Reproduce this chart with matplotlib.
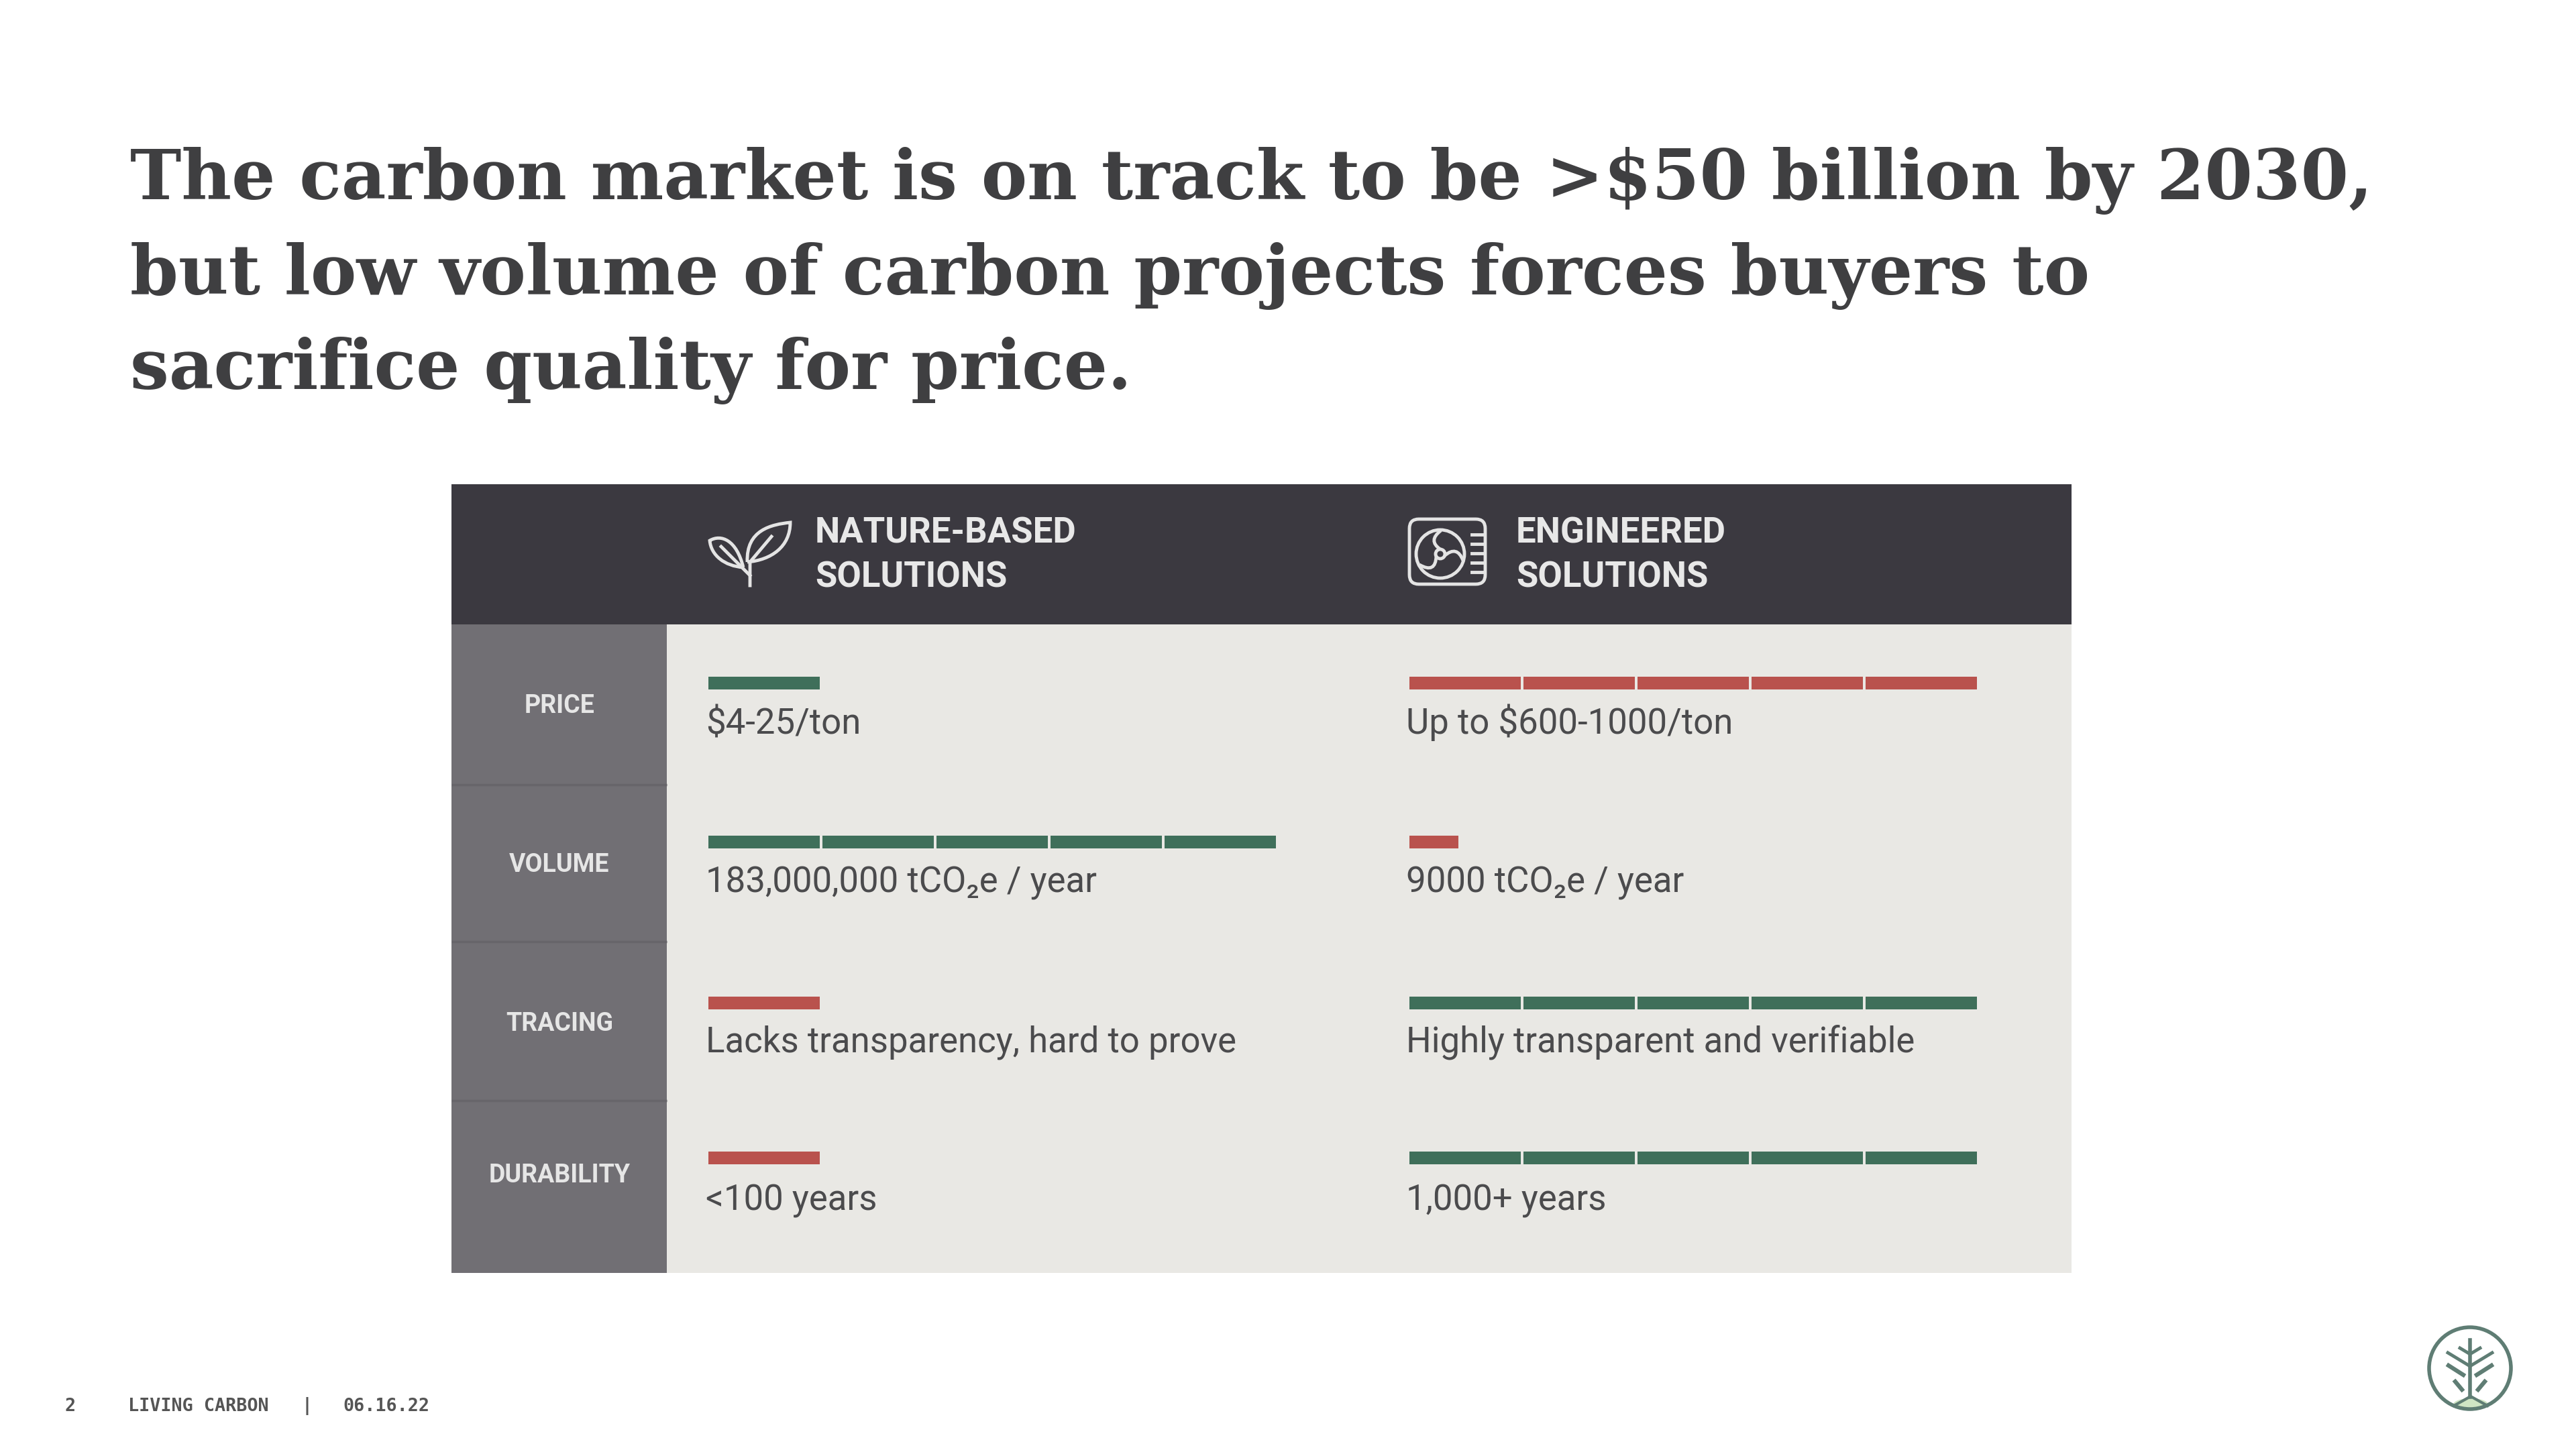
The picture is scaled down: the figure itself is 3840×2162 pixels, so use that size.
import matplotlib
matplotlib.use("Agg")
import matplotlib.pyplot as plt
from matplotlib.patches import Rectangle, Circle, FancyBboxPatch, PathPatch, Ellipse
from matplotlib.path import Path

# DATA

TITLE_LINES = [
    "The carbon market is on track to be >$50 billion by 2030,",
    "but low volume of carbon projects forces buyers to",
    "sacrifice quality for price.",
]
row_labels = ["PRICE", "VOLUME", "TRACING", "DURABILITY"]
nature_scores = [1, 5, 1, 1]
engineered_scores = [5, 0.43, 5, 5]
nature_good = [True, True, False, False]
engineered_good = [False, False, True, True]
nature_text = ["$4-25/ton", "183,000,000 tCO₂e / year", "Lacks transparency, hard to prove", "<100 years"]
engineered_text = ["Up to $600-1000/ton", "9000 tCO₂e / year", "Highly transparent and verifiable", "1,000+ years"]

# LAYOUT (pixels)

DARK = "#3b3940"
SIDE = "#716f74"
BODY = "#e9e8e4"
GREEN = "#3f6f5a"
RED = "#b9524d"
TEXT = "#4b4b4d"
ICON = "#e4e4e4"

row_tops = [931, 1170, 1404, 1641, 1898]
label_base = [1063, 1300, 1537, 1763]
bar_y = [1018, 1255, 1495, 1726]
text_base = [1094, 1330, 1568, 1805]
SEG_PITCH = 170
SEG_GAP = 4

fig = plt.figure(figsize=(38.4, 21.62), dpi=100, facecolor="white")
ax = fig.add_axes([0, 0, 1, 1])
ax.set_xlim(0, 3840)
ax.set_ylim(2162, 0)
ax.axis("off")

for i, line in enumerate(TITLE_LINES):
    ax.text(194, 297 + i * 141.5, line, family="DejaVu Serif", weight="bold",
            fontsize=74, color="#3f3f41", va="baseline", ha="left")

# table background
ax.add_patch(Rectangle((673, 722), 2415, 209, fc=DARK, ec="none"))
ax.add_patch(Rectangle((673, 931), 321, 967, fc=SIDE, ec="none"))
ax.add_patch(Rectangle((994, 931), 2094, 967, fc=BODY, ec="none"))
for y in row_tops[1:-1]:
    ax.plot([673, 994], [y, y], color="#67656a", lw=2.5, solid_capstyle="butt")

for x, top, bottom in [(1215, "NATURE-BASED", "SOLUTIONS"), (2260, "ENGINEERED", "SOLUTIONS")]:
    ax.text(x, 810, top, family="Roboto", weight="bold", fontsize=38, color="#e8e8e8", va="baseline")
    ax.text(x, 875, bottom, family="Roboto", weight="bold", fontsize=38, color="#e8e8e8", va="baseline")


def draw_score(x0, y, score, good):
    color = GREEN if good else RED
    n_full = int(score)
    for k in range(n_full):
        ax.barh(y, SEG_PITCH - SEG_GAP, left=x0 + k * SEG_PITCH, height=19, color=color)
    if score > n_full:
        ax.barh(y, (score - n_full) * SEG_PITCH, left=x0 + n_full * SEG_PITCH, height=19, color=color)


for i, label in enumerate(row_labels):
    ax.text(834, label_base[i], label, family="Roboto", weight="bold", fontsize=27,
            color="#e6e6e6", ha="center", va="baseline")
    draw_score(1056, bar_y[i], nature_scores[i], nature_good[i])
    draw_score(2101, bar_y[i], engineered_scores[i], engineered_good[i])
    ax.text(1052, text_base[i], nature_text[i], family="Roboto", fontsize=38, color=TEXT, va="baseline")
    ax.text(2096, text_base[i], engineered_text[i], family="Roboto", fontsize=38, color=TEXT, va="baseline")

# footer
for x, s in [(96, "2"), (191, "LIVING CARBON"), (449, "|"), (511, "06.16.22")]:
    ax.text(x, 2097, s, family="DejaVu Sans Mono", weight="bold", fontsize=19.3, color="#555555", va="center")

# leaf icon
LW = 3.5
ax.add_patch(PathPatch(Path([(1114, 838), (1112, 790), (1150, 782), (1178, 779),
                             (1178, 815), (1150, 835), (1114, 838)],
                            [1, 4, 4, 4, 4, 4, 4]), fc="none", ec=ICON, lw=LW))
ax.add_patch(PathPatch(Path([(1108, 846), (1098, 805), (1075, 796), (1058, 806),
                             (1060, 828), (1080, 844), (1108, 846)],
                            [1, 4, 4, 4, 4, 4, 4]), fc="none", ec=ICON, lw=LW))
ax.plot([1118, 1118, 1150], [873, 838, 800], color=ICON, lw=LW)
ax.plot([1118, 1075], [858, 815], color=ICON, lw=LW)

# fan icon
ax.add_patch(FancyBboxPatch((2101, 774), 113, 97, boxstyle="round,pad=0,rounding_size=14",
                            fc=DARK, ec=ICON, lw=LW, mutation_scale=1))
ax.add_patch(Circle((2147, 826), 36, fc="none", ec=ICON, lw=LW))
ax.add_patch(Circle((2147, 826), 7, fc="none", ec=ICON, lw=LW))
for start, ctrl, end in [((2147, 819), (2128, 806), (2148, 791)),
                         ((2153, 829), (2172, 812), (2181, 836)),
                         ((2141, 829), (2140, 856), (2116, 842))]:
    ax.add_patch(PathPatch(Path([start, ctrl, end], [1, 3, 3]), fc="none", ec=ICON, lw=LW))
for y in [797, 811, 825, 839, 853]:
    ax.plot([2194, 2212], [y, y], color=ICON, lw=LW)

# logo
LOGO = "#5f7d74"
ax.add_patch(Ellipse((3683, 2094), 52, 18, fc="#cfe5c4", ec="none"))
ax.add_patch(Circle((3682, 2040), 61, fc="none", ec=LOGO, lw=4))
ax.plot([3682, 3682], [1998, 2083], color=LOGO, lw=4)
for dx, y0, y1 in [(33, 2037, 2017), (15, 2019, 2010)]:
    ax.plot([3682 - dx, 3682, 3682 + dx], [y1, y0, y1], color=LOGO, lw=3.5)
for xa, ya, xb, yb in [(3650, 2036, 3672, 2050), (3714, 2036, 3692, 2050),
                       (3660, 2060, 3670, 2072), (3704, 2060, 3694, 2072)]:
    ax.plot([xa, xb], [ya, yb], color=LOGO, lw=4.5)
ax.plot([3658, 3683, 3708], [2096, 2082, 2096], color=LOGO, lw=3)

fig.savefig("out.png", dpi=100, facecolor="white")
